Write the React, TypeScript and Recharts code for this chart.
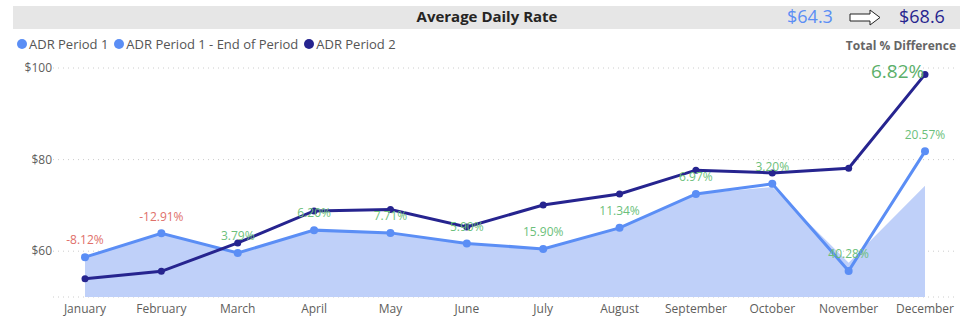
import React from 'react';
import { ComposedChart, Line, Area, XAxis, YAxis, CartesianGrid, LabelList } from 'recharts';

const months = ['January', 'February', 'March', 'April', 'May', 'June', 'July', 'August', 'September', 'October', 'November', 'December'];
const period1 = [58.7, 63.9, 59.6, 64.6, 64.0, 61.7, 60.5, 65.1, 72.5, 74.7, 55.7, 81.8];
const endOfPeriod = [58.7, 63.9, 59.6, 64.6, 64.0, 61.7, 60.5, 65.1, 72.5, 74.0, 57.5, 74.3];
const period2 = [54.0, 55.6, 61.8, 68.8, 69.1, 65.3, 70.1, 72.5, 77.7, 77.1, 78.1, 98.6];
const diffLabels = ['-8.12%', '-12.91%', '3.79%', '6.20%', '7.71%', '5.90%', '15.90%', '11.34%', '6.97%', '3.20%', '40.28%', '20.57%'];
const yTicks = [60, 80, 100];

const LIGHT = '#5B8EF5';
const NAVY = '#26248F';
const FILL = '#BFD0F9';
const GREEN = '#6CBF7B';
const RED = '#E0706A';
const FONT = '"Segoe UI", "Open Sans", sans-serif';

const data = months.map((m, i) => ({
  month: m,
  p1: period1[i],
  end: endOfPeriod[i],
  p2: period2[i],
  diff: diffLabels[i],
}));

const DiffLabel = (props: any) => {
  const { x, y, index } = props;
  const text = diffLabels[index];
  const color = text.startsWith('-') ? RED : GREEN;
  return (
    <text x={x} y={y - 17} dy="0.35em" textAnchor="middle" fontSize={12} fill={color} fontFamily={FONT}>
      {text}
    </text>
  );
};

const legendItems = [
  { name: 'ADR Period 1', color: LIGHT },
  { name: 'ADR Period 1 - End of Period', color: LIGHT },
  { name: 'ADR Period 2', color: NAVY },
];

const App: React.FC = () => {
  return (
    <div style={{ position: 'absolute', left: 0, top: 0, width: 965, height: 326, background: '#fff', fontFamily: FONT }}>
      <div style={{ position: 'absolute', left: 13, top: 6, width: 947, height: 23, background: '#E6E6E6' }} />
      <div style={{ position: 'absolute', left: 0, width: 974, top: 5, textAlign: 'center', fontSize: 15, fontWeight: 700, color: '#252423', lineHeight: '22px' }}>
        Average Daily Rate
      </div>
      <div style={{ position: 'absolute', left: 787, top: 4, fontSize: 18, color: LIGHT, lineHeight: '24px' }}>$64.3</div>
      <svg style={{ position: 'absolute', left: 849, top: 9 }} width={33} height={17}>
        <path d="M1 5 H21 V1 L31 8.5 L21 16 V12 H1 Z" fill="#fff" stroke="#222" strokeWidth={1} />
      </svg>
      <div style={{ position: 'absolute', left: 899, top: 4, fontSize: 18, color: NAVY, lineHeight: '24px' }}>$68.6</div>

      <div style={{ position: 'absolute', left: 17, top: 35, display: 'flex', alignItems: 'center', fontSize: 13, color: '#555' }}>
        {legendItems.map((it) => (
          <div key={it.name} style={{ display: 'flex', alignItems: 'center', marginRight: 6 }}>
            <span style={{ display: 'inline-block', width: 10, height: 10, borderRadius: 5, background: it.color, marginRight: 2 }} />
            <span>{it.name}</span>
          </div>
        ))}
      </div>
      <div style={{ position: 'absolute', right: 9, top: 37, fontSize: 12, fontWeight: 700, color: '#666' }}>Total % Difference</div>

      <div style={{ position: 'absolute', left: 0, top: 0 }}>
        <ComposedChart width={965} height={326} data={data} margin={{ top: 68, right: 10, bottom: 9, left: 0 }}>
          <CartesianGrid vertical={false} stroke="#ccc" strokeDasharray="1 4" />
          <XAxis
            dataKey="month"
            padding={{ left: 32, right: 30 }}
            axisLine={false}
            tickLine={false}
            tickMargin={1}
            height={20}
            interval={0}
            tick={{ fontSize: 12, fill: '#605E5C', fontFamily: FONT }}
          />
          <YAxis
            domain={[50, 100]}
            ticks={yTicks}
            allowDataOverflow
            width={53}
            axisLine={false}
            tickLine={false}
            tickSize={0}
            tickMargin={1}
            tickFormatter={(v: number) => `$${v}`}
            tick={{ fontSize: 12, fill: '#605E5C', fontFamily: FONT }}
          />
          <Area type="linear" dataKey="end" stroke="none" fill={FILL} fillOpacity={1} isAnimationActive={false} />
          <Line type="linear" dataKey="p1" stroke={LIGHT} strokeWidth={3} dot={{ r: 4, fill: LIGHT, stroke: LIGHT, strokeWidth: 0 }} activeDot={false} isAnimationActive={false}>
            <LabelList dataKey="diff" content={<DiffLabel />} />
          </Line>
          <Line type="linear" dataKey="p2" stroke={NAVY} strokeWidth={3} dot={{ r: 3.5, fill: NAVY, stroke: NAVY, strokeWidth: 0 }} activeDot={false} isAnimationActive={false} />
        </ComposedChart>
      </div>

      <div style={{ position: 'absolute', left: 871, top: 59, fontSize: 19, color: '#5BAF6A', lineHeight: '24px' }}>6.82%</div>
    </div>
  );
};

export default App;
